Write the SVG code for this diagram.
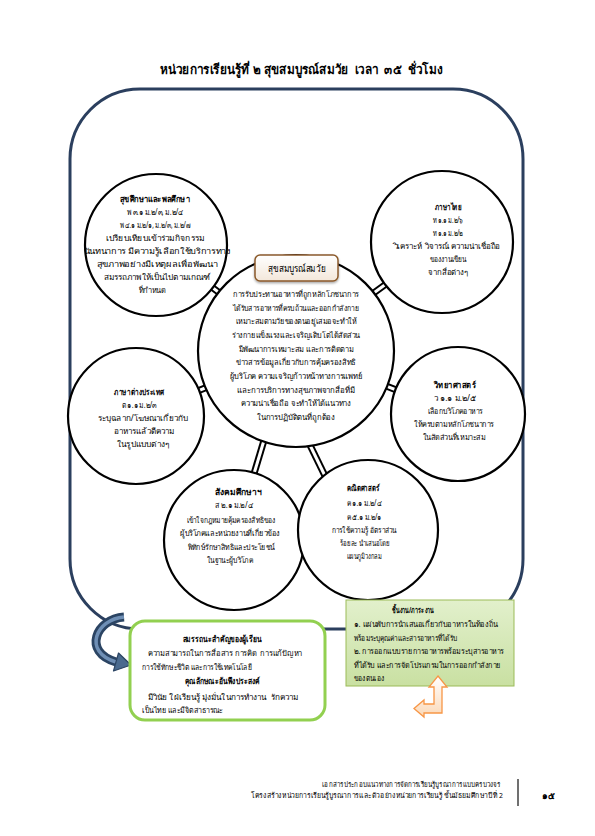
<svg xmlns="http://www.w3.org/2000/svg" width="595" height="836" viewBox="0 0 595 836">
<defs>
<style>
text{font-family:"Noto Sans","DejaVu Sans",sans-serif;fill:#000;white-space:pre}
.t{font-size:8px;text-anchor:middle}
.b{font-size:8.5px;font-weight:bold;text-anchor:middle}
.l{font-size:8px;text-anchor:start}
.circ{fill:#fff;stroke:#000;stroke-width:2.2}
.cb{stroke:#000;stroke-width:7;stroke-linecap:butt}
.cw{stroke:#fff;stroke-width:3;stroke-linecap:butt}
</style>
<linearGradient id="gGreen" x1="0" y1="0" x2="0" y2="1">
<stop offset="0" stop-color="#E2F0CC"/>
<stop offset="1" stop-color="#C9E0A2"/>
</linearGradient>
<linearGradient id="gBox" x1="0" y1="0" x2="0" y2="1">
<stop offset="0" stop-color="#FFFFFF"/>
<stop offset="1" stop-color="#F3E7DA"/>
</linearGradient>
<linearGradient id="gOrange" x1="0" y1="0" x2="0" y2="1">
<stop offset="0" stop-color="#FFFFFF"/>
<stop offset="1" stop-color="#FBD9B8"/>
</linearGradient>
<filter id="sh" x="-20%" y="-20%" width="140%" height="160%">
<feDropShadow dx="0" dy="1.5" stdDeviation="1.2" flood-color="#000" flood-opacity="0.35"/>
</filter>
</defs>
<rect width="595" height="836" fill="#fff"/>

<text id="title" x="301" y="74" style="font-size:13px;font-weight:bold;text-anchor:middle" textLength="283" lengthAdjust="spacingAndGlyphs">หน่วยการเรียนรู้ที่ ๒ สุขสมบูรณ์สมวัย  เวลา  ๓๕  ชั่วโมง</text>

<g id="frame">
<rect x="70" y="89" width="453" height="540" rx="70" ry="70" fill="none" stroke="#2B3F5E" stroke-width="3"/>
</g>

<g id="connectors">
<line class="cb" x1="223" y1="295.5" x2="208" y2="284.3"/><line class="cw" x1="223" y1="295.5" x2="208" y2="284.3"/>
<line class="cb" x1="369.5" y1="296" x2="389.5" y2="281.5"/><line class="cw" x1="369.5" y1="296" x2="389.5" y2="281.5"/>
<line class="cb" x1="210" y1="386" x2="194.4" y2="392.3"/><line class="cw" x1="210" y1="386" x2="194.4" y2="392.3"/>
<line class="cb" x1="382.5" y1="384.6" x2="400.2" y2="391.5"/><line class="cw" x1="382.5" y1="384.6" x2="400.2" y2="391.5"/>
<line class="cb" x1="265" y1="437" x2="253" y2="477"/><line class="cw" x1="265" y1="437" x2="253" y2="477"/>
<line class="cb" x1="308" y1="441" x2="327" y2="480"/><line class="cw" x1="308" y1="441" x2="327" y2="480"/>
</g>

<g id="center">
<ellipse class="circ" cx="296" cy="351" rx="98" ry="96"/>
<rect x="255" y="255" width="83" height="26" rx="5" fill="url(#gBox)" stroke="#8B5A2B" stroke-width="1.5" filter="url(#sh)"/>
<text x="297" y="272" style="font-size:10px;text-anchor:middle" textLength="58" lengthAdjust="spacingAndGlyphs">สุขสมบูรณ์สมวัย</text>
<text class="t" x="296" y="297" textLength="126" lengthAdjust="spacingAndGlyphs">การรับประทานอาหารที่ถูกหลักโภชนาการ</text>
<text class="t" x="296" y="311" textLength="126" lengthAdjust="spacingAndGlyphs">ได้รับสารอาหารที่ครบถ้วนและออกกำลังกาย</text>
<text class="t" x="296" y="324" textLength="121" lengthAdjust="spacingAndGlyphs">เหมาะสมตามวัยของตนอยู่เสมอจะทำให้</text>
<text class="t" x="296" y="338" textLength="128" lengthAdjust="spacingAndGlyphs">ร่างกายแข็งแรงและเจริญเติบโตได้สัดส่วน</text>
<text class="t" x="296" y="352" textLength="115" lengthAdjust="spacingAndGlyphs">มีพัฒนาการเหมาะสม และการติดตาม</text>
<text class="t" x="296" y="365" textLength="120" lengthAdjust="spacingAndGlyphs">ข่าวสารข้อมูลเกี่ยวกับการคุ้มครองสิทธิ</text>
<text class="t" x="296" y="379" textLength="133" lengthAdjust="spacingAndGlyphs">ผู้บริโภค ความเจริญก้าวหน้าทางการแพทย์</text>
<text class="t" x="296" y="393" textLength="118" lengthAdjust="spacingAndGlyphs">และการบริการทางสุขภาพจากสื่อที่มี</text>
<text class="t" x="296" y="406" textLength="110" lengthAdjust="spacingAndGlyphs">ความน่าเชื่อถือ จะทำให้ได้แนวทาง</text>
<text class="t" x="296" y="420" textLength="78" lengthAdjust="spacingAndGlyphs">ในการปฏิบัติตนที่ถูกต้อง</text>
</g>

<g id="health">
<circle class="circ" cx="156" cy="245" r="71"/>
<text class="b" x="155" y="202" textLength="70" lengthAdjust="spacingAndGlyphs">สุขศึกษาและพลศึกษา</text>
<text class="t" x="155" y="215" textLength="57" lengthAdjust="spacingAndGlyphs">พ ๓.๑ ม.๒/๓, ม.๒/๔</text>
<text class="t" x="155" y="228" textLength="71" lengthAdjust="spacingAndGlyphs">พ ๔.๑ ม.๒/๑, ม.๒/๓, ม.๒/๗</text>
<text class="t" x="155" y="241" textLength="99" lengthAdjust="spacingAndGlyphs">เปรียบเทียบเข้าร่วมกิจกรรม</text>
<text class="t" x="157" y="254" textLength="147" lengthAdjust="spacingAndGlyphs">นันทนาการ มีความรู้เลือกใช้บริการทาง</text>
<text class="t" x="157" y="267" textLength="121" lengthAdjust="spacingAndGlyphs">สุขภาพอย่างมีเหตุผลเพื่อพัฒนา</text>
<text class="t" x="157" y="280" textLength="107" lengthAdjust="spacingAndGlyphs">สมรรถภาพให้เป็นไปตามเกณฑ์</text>
<text class="t" x="152" y="293" textLength="27" lengthAdjust="spacingAndGlyphs">ที่กำหนด</text>
</g>

<g id="thai">
<circle class="circ" cx="442" cy="242" r="71"/>
<text class="b" x="448" y="210" textLength="27" lengthAdjust="spacingAndGlyphs">ภาษาไทย</text>
<text class="t" x="448" y="223" textLength="30" lengthAdjust="spacingAndGlyphs">ท ๑.๑ ม.๒/๖</text>
<text class="t" x="448" y="236" textLength="30" lengthAdjust="spacingAndGlyphs">ท ๑.๑ ม.๒/๒</text>
<text class="t" x="447" y="249" textLength="107" lengthAdjust="spacingAndGlyphs">วิเคราะห์ วิจารณ์ ความน่าเชื่อถือ</text>
<text class="t" x="448" y="262" textLength="37" lengthAdjust="spacingAndGlyphs">ของงานเขียน</text>
<text class="t" x="448" y="275" textLength="40" lengthAdjust="spacingAndGlyphs">จากสื่อต่างๆ</text>
</g>

<g id="foreign">
<circle class="circ" cx="136" cy="416" r="68"/>
<text class="b" x="139" y="395" textLength="50" lengthAdjust="spacingAndGlyphs">ภาษาต่างประเทศ</text>
<text class="t" x="139" y="408" textLength="35" lengthAdjust="spacingAndGlyphs">ต ๑.๑ ม.๒/๓</text>
<text class="t" x="143" y="421" textLength="90" lengthAdjust="spacingAndGlyphs">ระบุฉลาก/โฆษณาเกี่ยวกับ</text>
<text class="t" x="144" y="434" textLength="60" lengthAdjust="spacingAndGlyphs">อาหารแล้วตีความ</text>
<text class="t" x="143" y="447" textLength="52" lengthAdjust="spacingAndGlyphs">ในรูปแบบต่างๆ</text>
</g>

<g id="science">
<circle class="circ" cx="458" cy="414" r="67"/>
<text class="b" x="455" y="388" textLength="42" lengthAdjust="spacingAndGlyphs">วิทยาศาสตร์</text>
<text class="t" x="455" y="401" textLength="42" lengthAdjust="spacingAndGlyphs">ว ๑.๑ ม.๒/๕</text>
<text class="t" x="455" y="414" textLength="55" lengthAdjust="spacingAndGlyphs">เลือกบริโภคอาหาร</text>
<text class="t" x="454" y="427" textLength="80" lengthAdjust="spacingAndGlyphs">ให้ครบตามหลักโภชนาการ</text>
<text class="t" x="454" y="440" textLength="63" lengthAdjust="spacingAndGlyphs">ในสัดส่วนที่เหมาะสม</text>
</g>

<g id="social">
<circle class="circ" cx="234" cy="540" r="70"/>
<text class="b" x="238" y="495" textLength="47" lengthAdjust="spacingAndGlyphs">สังคมศึกษาฯ</text>
<text class="t" x="234" y="508" textLength="38" lengthAdjust="spacingAndGlyphs">ส ๒.๑ ม.๒/๔</text>
<text class="t" x="231" y="523" textLength="89" lengthAdjust="spacingAndGlyphs">เข้าใจกฎหมายคุ้มครองสิทธิของ</text>
<text class="t" x="230" y="536" textLength="100" lengthAdjust="spacingAndGlyphs">ผู้บริโภคและหน่วยงานที่เกี่ยวข้อง</text>
<text class="t" x="231" y="550" textLength="87" lengthAdjust="spacingAndGlyphs">พิทักษ์รักษาสิทธิและประโยชน์</text>
<text class="t" x="230" y="563" textLength="46" lengthAdjust="spacingAndGlyphs">ในฐานะผู้บริโภค</text>
</g>

<g id="math">
<circle class="circ" cx="368" cy="530" r="70"/>
<text class="b" x="363" y="491" textLength="33" lengthAdjust="spacingAndGlyphs">คณิตศาสตร์</text>
<text class="t" x="364" y="506" textLength="35" lengthAdjust="spacingAndGlyphs">ค ๑.๑ ม.๒/๔</text>
<text class="t" x="364" y="520" textLength="35" lengthAdjust="spacingAndGlyphs">ค ๕.๑ ม.๒/๑</text>
<text class="t" x="364" y="533" textLength="65" lengthAdjust="spacingAndGlyphs">การใช้ความรู้ อัตราส่วน</text>
<text class="t" x="365" y="546" textLength="50" lengthAdjust="spacingAndGlyphs">ร้อยละ นำเสนอโดย</text>
<text class="t" x="364" y="559" textLength="35" lengthAdjust="spacingAndGlyphs">แผนภูมิวงกลม</text>
</g>

<g id="curvedArrow">
<path d="M124,617 C96,619 82,652 116,662" fill="none" stroke="#2B4463" stroke-width="9"/>
<path d="M124,617 C96,619 82,652 116,662" fill="none" stroke="#6F8FB5" stroke-width="3.5"/>
<polygon points="113.5,671 118.5,653 131,665" fill="#4A6A8E" stroke="#2B4463" stroke-width="1.2" stroke-linejoin="round"/>
</g>

<g id="competency">
<rect x="130" y="621" width="195" height="99" rx="15" ry="15" fill="#fff" stroke="#92D050" stroke-width="3"/>
<text class="b" x="222" y="642" textLength="79" lengthAdjust="spacingAndGlyphs">สมรรถนะสำคัญของผู้เรียน</text>
<text class="l" x="148" y="656" textLength="154" lengthAdjust="spacingAndGlyphs">ความสามารถในการสื่อสาร การคิด  การแก้ปัญหา</text>
<text class="l" x="142" y="670" textLength="110" lengthAdjust="spacingAndGlyphs">การใช้ทักษะชีวิต และการใช้เทคโนโลยี</text>
<text class="b" x="222" y="684" textLength="75" lengthAdjust="spacingAndGlyphs">คุณลักษณะอันพึงประสงค์</text>
<text class="l" x="148" y="700" textLength="150" lengthAdjust="spacingAndGlyphs">มีวินัย ใฝ่เรียนรู้ มุ่งมั่นในการทำงาน  รักความ</text>
<text class="l" x="142" y="713" textLength="81" lengthAdjust="spacingAndGlyphs">เป็นไทย และมีจิตสาธารณะ</text>
</g>

<g id="tasks">
<rect x="346" y="600" width="168" height="86" fill="url(#gGreen)" stroke="#9BBB59" stroke-width="1"/>
<text class="b" x="413" y="613" textLength="42" lengthAdjust="spacingAndGlyphs">ชิ้นงาน/ภาระงาน</text>
<text class="l" x="354" y="627" textLength="144" lengthAdjust="spacingAndGlyphs">๑. แผ่นพับการนำเสนอเกี่ยวกับอาหารในท้องถิ่น</text>
<text class="l" x="354" y="641" textLength="103" lengthAdjust="spacingAndGlyphs">พร้อมระบุคุณค่าและสารอาหารที่ได้รับ</text>
<text class="l" x="354" y="654" textLength="150" lengthAdjust="spacingAndGlyphs">๒. การออกแบบรายการอาหารพร้อมระบุสารอาหาร</text>
<text class="l" x="354" y="668" textLength="147" lengthAdjust="spacingAndGlyphs">ที่ได้รับ และการจัดโปรแกรมในการออกกำลังกาย</text>
<text class="l" x="354" y="681" textLength="30" lengthAdjust="spacingAndGlyphs">ของตนเอง</text>
</g>

<g id="bentArrow">
<polygon points="438,676 447,687 442,687 442,713 424,713 424,717 414,708.5 424,700 424,704 434,704 434,687 429,687" fill="url(#gOrange)" stroke="#F79646" stroke-width="1.3" stroke-linejoin="miter"/>
</g>

<g id="footer">
<text x="500" y="787" style="font-size:7.5px;text-anchor:end" textLength="178" lengthAdjust="spacingAndGlyphs">เอกสารประกอบแนวทางการจัดการเรียนรู้บูรณาการแบบครบวงจร</text>
<text x="503" y="798" style="font-size:7.5px;text-anchor:end" textLength="252" lengthAdjust="spacingAndGlyphs">โครงสร้างหน่วยการเรียนรู้บูรณาการและตัวอย่างหน่วยการเรียนรู้ ชั้นมัธยมศึกษาปีที่ 2</text>
<line x1="518" y1="779" x2="518" y2="806" stroke="#404040" stroke-width="1.5"/>
<text x="548" y="799" style="font-size:9px;font-weight:bold;text-anchor:middle">๑๕</text>
</g>
</svg>
